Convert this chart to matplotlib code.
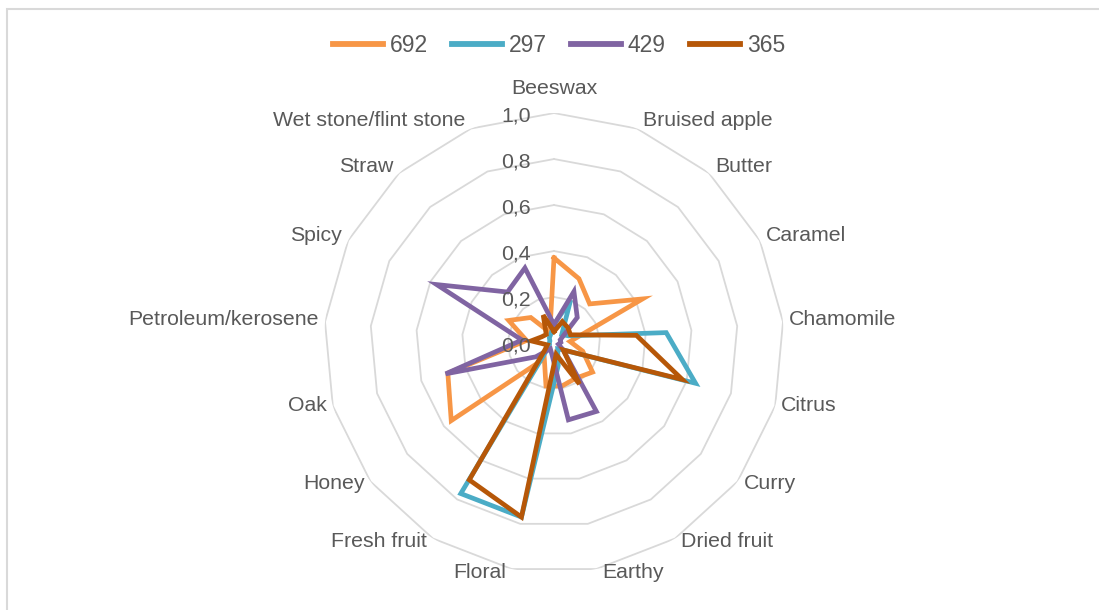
import numpy as np
import matplotlib.pyplot as plt
from matplotlib.patches import Rectangle

plt.rcParams['font.family'] = ['Liberation Sans', 'DejaVu Sans']

categories = ['Beeswax', 'Bruised apple', 'Butter', 'Caramel', 'Chamomile',
              'Citrus', 'Curry', 'Dried fruit', 'Earthy', 'Floral',
              'Fresh fruit', 'Honey', 'Oak', 'Petroleum/kerosene', 'Spicy',
              'Straw', 'Wet stone/flint stone']

s692 = [0.37, 0.30, 0.23, 0.43, 0.07, 0.13, 0.21, 0.18, 0.19, 0.19,
        0.08, 0.56, 0.48, 0.12, 0.22, 0.15, 0.05]
s297 = [0.08, 0.20, 0.05, 0.07, 0.49, 0.64, 0.05, 0.03, 0.10, 0.77,
        0.77, 0.03, 0.02, 0.02, 0.02, 0.03, 0.04]
s429 = [0.08, 0.24, 0.15, 0.03, 0.03, 0.02, 0.05, 0.35, 0.34, 0.05,
        0.03, 0.10, 0.49, 0.14, 0.57, 0.30, 0.35]
s365 = [0.05, 0.10, 0.09, 0.08, 0.36, 0.58, 0.05, 0.21, 0.05, 0.77,
        0.70, 0.05, 0.03, 0.10, 0.06, 0.05, 0.13]

series_names = ['692', '297', '429', '365']
series_values = [s692, s297, s429, s365]
colors = ['#F79646', '#4BACC6', '#8064A2', '#B65708']

levels = [0.0, 0.2, 0.4, 0.6, 0.8, 1.0]
level_labels = ['0,0', '0,2', '0,4', '0,6', '0,8', '1,0']

text_color = '#595959'
grid_color = '#D9D9D9'

n = len(categories)
angles = np.linspace(0, 2 * np.pi, n, endpoint=False)
closed = np.append(angles, angles[0])

fig = plt.figure(figsize=(10.99, 6.10), dpi=100)
ax = fig.add_axes([0.2948, 0.0607, 0.4186, 0.754], projection='polar')
ax.set_theta_offset(np.pi / 2)
ax.set_theta_direction(-1)
ax.set_ylim(0, 1)
ax.grid(False)
ax.set_xticks([])
ax.set_yticks([])
ax.spines['polar'].set_visible(False)
ax.patch.set_alpha(0)

# polygon gridlines
for lv in levels[1:]:
    ax.plot(closed, [lv] * (n + 1), color=grid_color, lw=1.3, zorder=1)

# radial value labels, drawn over the series
for lv, txt in zip(levels, level_labels):
    ax.annotate(txt, xy=(0, lv), xytext=(-23, -3), textcoords='offset pixels',
                ha='right', va='center', fontsize=15.3, color=text_color,
                annotation_clip=False, zorder=6)

# category labels around the outside
for a, name in zip(angles, categories):
    if np.isclose(a, 0):
        ax.annotate(name, xy=(a, 1), xytext=(0, 15), textcoords='offset pixels',
                    ha='center', va='bottom', fontsize=15.3, color=text_color,
                    annotation_clip=False)
        continue
    side = 1 if np.sin(a) > 0 else -1
    dy = 2 + 6 * np.cos(a)
    ax.annotate(name, xy=(a, 1), xytext=(6 * side, dy), textcoords='offset pixels',
                ha='left' if side > 0 else 'right', va='center', fontsize=15.3,
                color=text_color, annotation_clip=False)

for name, vals, c in zip(series_names, series_values, colors):
    v = np.append(vals, vals[0])
    ax.plot(closed, v, color=c, lw=3.4, label=name, zorder=3,
            solid_joinstyle='miter')

leg = fig.legend(loc='center', bbox_to_anchor=(559 / 1099, 1 - 46 / 610),
                 ncol=4, frameon=False, fontsize=16.5, handlelength=2.2,
                 handletextpad=0.28, columnspacing=1.05)
for t in leg.get_texts():
    t.set_color(text_color)
for h in leg.get_lines():
    h.set_linewidth(4.2)

fig.add_artist(Rectangle((7 / 1099, -0.05), 1.2, 1 - 9 / 610 + 0.05,
                         transform=fig.transFigure, fill=False,
                         edgecolor=grid_color, lw=1.5))

fig.savefig('out.png', dpi=100)
